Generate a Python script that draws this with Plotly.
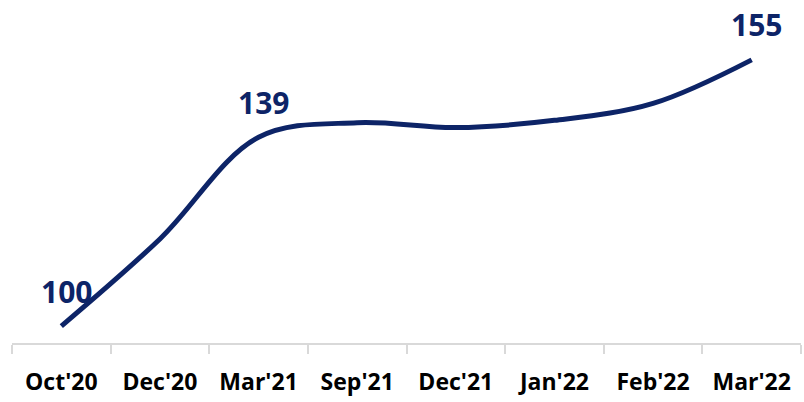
import plotly.graph_objects as go

categories = ["Oct'20", "Dec'20", "Mar'21", "Sep'21", "Dec'21", "Jan'22", "Feb'22", "Mar'22"]
values = [100, 118, 139, 142, 141, 142.5, 146, 155]
labeled = [0, 2, 7]

navy = "#0d2467"

fig = go.Figure()
fig.add_trace(go.Scatter(
    x=categories, y=values, mode="lines",
    line=dict(color=navy, width=5, shape="spline", smoothing=1.0),
    hoverinfo="skip", showlegend=False,
))

for i in labeled:
    fig.add_annotation(
        x=categories[i], y=values[i], text=f"<b>{values[i]:g}</b>",
        showarrow=False, yshift=35, xshift=5,
        font=dict(family="Open Sans", size=30, color=navy),
    )

fig.update_layout(
    width=804, height=402,
    margin=dict(l=12, r=3, t=10, b=59),
    paper_bgcolor="white", plot_bgcolor="white",
    xaxis=dict(
        type="category", range=[-0.5, 7.5],
        showline=True, linecolor="#d9d9d9", linewidth=1.5,
        ticks="outside", tickson="boundaries", ticklen=9, tickcolor="#d9d9d9", tickwidth=1.5,
        showgrid=False, zeroline=False,
        tickfont=dict(family="Open Sans", size=23, color="black", weight="bold"),
        ticklabelstandoff=18,
    ),
    yaxis=dict(range=[96.5, 165.3], visible=False, showgrid=False, zeroline=False),
)

fig.write_html("out.html")
